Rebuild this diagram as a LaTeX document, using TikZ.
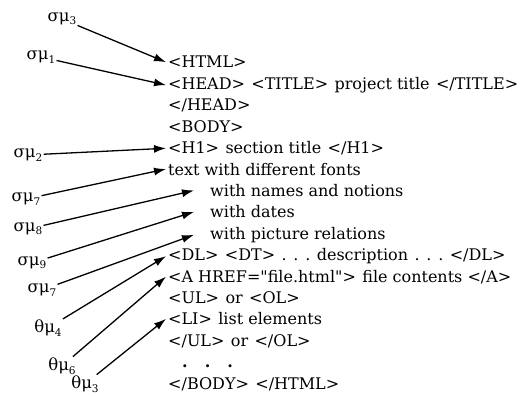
\documentclass[tikz,border=0pt]{standalone}
\usepackage{fontspec}
\setmainfont{DejaVu Serif}[Ligatures=TeXOff]
\usetikzlibrary{arrows.meta}
\newcommand{\ls}{21.4}
\newcommand{\gap}{\hspace{0.4em}}
\newcommand{\lb}[2]{#1\raisebox{-3.5pt}{\fontsize{10.5}{10.5}\selectfont #2}}

\begin{document}
\begin{tikzpicture}[x=1pt,y=-1pt,
    line/.style={anchor=base west, inner sep=2pt, font=\fontsize{16}{16}\selectfont},
    lab/.style={inner sep=1pt, font=\fontsize{16.5}{16.5}\selectfont},
    arr/.style={-{Latex[length=12pt,width=8pt]}, line width=1.3pt}]
    \useasboundingbox (0,0) rectangle (525,396);

    % HTML lines
    \node[line] (l-0) at (166,68+0*\ls) {<HTML>};
    \node[line] (l-1) at (166,68+1*\ls) {<HEAD>\gap <TITLE>\gap project title\gap </TITLE>};
    \node[line] (l-2) at (166,68+2*\ls) {</HEAD>};
    \node[line] (l-3) at (166,68+3*\ls) {<BODY>};
    \node[line] (l-4) at (166,68+4*\ls) {<H1>\gap section title\gap </H1>};
    \node[line] (l-5) at (166,68+5*\ls) {text with different fonts};
    \node[line] (l-6) at (208,68+6*\ls) {with names and notions};
    \node[line] (l-7) at (208,68+7*\ls) {with dates};
    \node[line] (l-8) at (208,68+8*\ls) {with picture relations};
    \node[line] (l-9) at (166,68+9*\ls) {<DL>\gap <DT>\gap . . .\gap description\gap . . .\gap </DL>};
    \node[line] (l-10) at (166,68+10*\ls) {<A HREF="file.html">\gap file contents </A>};
    \node[line] (l-11) at (166,68+11*\ls) {<UL>\gap or\gap <OL>};
    \node[line] (l-12) at (166,68+12*\ls) {<LI>\gap list elements};
    \node[line] (l-13) at (166,68+13*\ls) {</UL>\gap or\gap </OL>};
    \node[line] (l-14) at (180,68+14*\ls) {\textbf{.}\hspace{17pt}\textbf{.}\hspace{17pt}\textbf{.}};
    \node[line] (l-15) at (166,68+15*\ls) {</BODY>\gap </HTML>};

    % labels
    \node[lab] (s-3) at (62,19) {\lb{σμ}{3}};
    \node[lab] (s-1) at (41,57) {\lb{σμ}{1}};
    \node[lab] (s-2) at (28,155) {\lb{σμ}{2}};
    \node[lab] (s-7) at (26,199) {\lb{σμ}{7}};
    \node[lab] (s-8) at (28,229) {\lb{σμ}{8}};
    \node[lab] (s-9) at (32,263) {\lb{σμ}{9}};
    \node[lab] (s-7b) at (42,290) {\lb{σμ}{7}};
    \node[lab] (t-4) at (48,328) {\lb{θμ}{4}};
    \node[lab] (t-6) at (62,366) {\lb{θμ}{6}};
    \node[lab] (t-3) at (85,384) {\lb{θμ}{3}};

    % arrows
    \draw[arr] (s-3) -- (l-0.west);
    \draw[arr] (s-1) -- (l-1.west);
    \draw[arr] (s-2) -- (l-4.west);
    \draw[arr] (s-7) -- (l-5.west);
    \draw[arr] (s-8) -- ([xshift=-14pt]l-6.west);
    \draw[arr] (s-9) -- ([xshift=-14pt]l-7.west);
    \draw[arr] (s-7b) -- ([xshift=-14pt]l-8.west);
    \draw[arr] (t-4) -- (l-9.west);
    \draw[arr] (t-6) -- (l-10.west);
    \draw[arr] (t-3) -- (l-12.west);
\end{tikzpicture}
\end{document}
